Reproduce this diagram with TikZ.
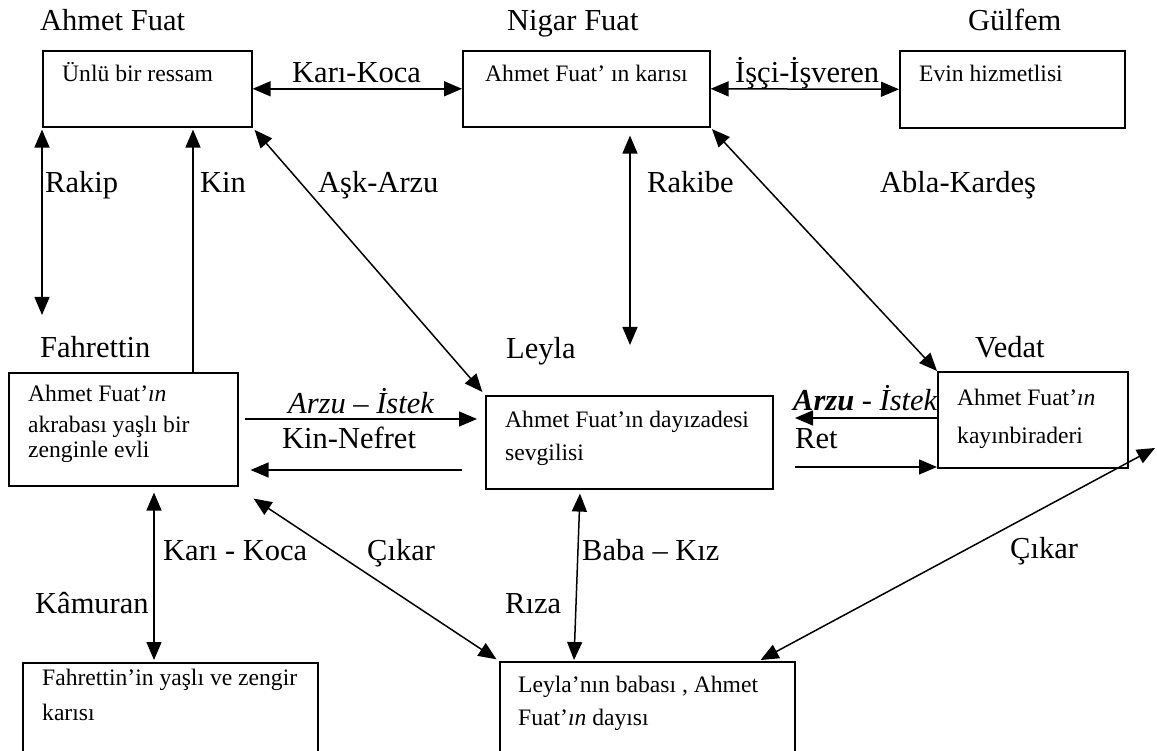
\documentclass[tikz,border=0pt]{standalone}
\usepackage{fontspec}
\setmainfont{Liberation Serif}
\usetikzlibrary{arrows.meta,calc}
\begin{document}
\begin{tikzpicture}[x=1pt,y=-1pt,
  >={Triangle[length=18pt,width=15pt]},
  box/.style={draw, line width=1.6pt, inner sep=0pt, anchor=north west},
  big/.style={font=\fontsize{30.5}{36}\selectfont, inner sep=0pt, anchor=base west},
  small/.style={font=\fontsize{23.6}{28}\selectfont, inner sep=0pt, anchor=base west},
  conn/.style={line width=1.5pt},
  both/.style={conn, <->},
  fwd/.style={conn, ->}]
\useasboundingbox (0,0) rectangle (1157,751);
\clip (0,0) rectangle (1157,751);
\fill[white] (0,0) rectangle (1157,751);

% boxes
\node[box, minimum width=209pt, minimum height=76pt] (A) at (42,50) {};
\node[box, minimum width=247pt, minimum height=76pt] (N) at (462,50) {};
\node[box, minimum width=225pt, minimum height=77pt] (G) at (899,50) {};
\node[box, minimum width=229pt, minimum height=113pt] (F) at (8,372) {};
\node[box, minimum width=287pt, minimum height=93pt] (L) at (485,395) {};
\node[box, minimum width=190pt, minimum height=96pt] (V) at (937,371) {};
\node[box, minimum width=295pt, minimum height=150pt] (K) at (22,662) {};
\node[box, minimum width=295pt, minimum height=150pt] (B) at (499,661) {};

% titles
\node[big] (tA) at (40,31) {Ahmet Fuat};
\node[big] (tN) at (507,31) {Nigar Fuat};
\node[big] (tG) at (968,31) {Gülfem};
\node[big] (tF) at (40,358) {Fahrettin};
\node[big] (tL) at (506,359) {Leyla};
\node[big] (tV) at (975,358) {Vedat};
\node[big] (tK) at (35,613) {Kâmuran};

% box texts
\node[small] (xA) at (62,82) {Ünlü bir ressam};
\node[small] (xN) at (485,82) {Ahmet Fuat’ ın karısı};
\node[small] (xG) at (919,82) {Evin hizmetlisi};
\node[small] (xF1) at (28,402) {Ahmet Fuat’\textit{ın}};
\node[small] (xF2) at (28,432) {akrabası yaşlı bir};
\node[small] (xF3) at (28,457) {zenginle evli};
\node[small] (xL1) at (505,427) {Ahmet Fuat’ın dayızadesi};
\node[small] (xL2) at (505,460) {sevgilisi};
\node[small] (xV1) at (957,405) {Ahmet Fuat’\textit{ın}};
\node[small] (xV2) at (957,443) {kayınbiraderi};
\node[small] (xK1) at (42,685) {Fahrettin’in yaşlı ve zengir};
\node[small] (xK2) at (42,720) {karısı};
\node[small] (xB1) at (518,692) {Leyla’nın babası , Ahmet};
\node[small] (xB2) at (518,725) {Fuat’\textit{ın} dayısı};

% connectors
\draw[both] (A.east) -- (N.west);
\draw[both] (N.east) -- (G.west);
\coordinate (rakipEnd) at (42,315);
\draw[both, shorten <=2pt] (A.south west) -- (rakipEnd);
\coordinate (kinX) at (193,0);
\draw[fwd, shorten >=2pt] (F.north -| kinX) -- (A.south -| kinX);
\draw[both, shorten <=3pt, shorten >=4pt] (A.south east) -- (L.north west);
\coordinate (rakibeEnd) at (630,345);
\draw[both, shorten <=8pt] (N.south -| rakibeEnd) -- (rakibeEnd);
\draw[both, shorten <=2pt] (N.south east) -- (V.north west);
\coordinate (flStart) at (245,419);
\draw[fwd, shorten >=8pt] (flStart) -- (flStart -| L.west);
\coordinate (lfStart) at (462,470);
\draw[fwd, shorten >=12pt] (lfStart) -- (lfStart -| F.east);
\coordinate (vlEnd) at (795,418);
\draw[fwd] (vlEnd -| V.west) -- (vlEnd);
\coordinate (lvStart) at (795,467);
\draw[fwd] (lvStart) -- (lvStart -| V.west);
\coordinate (kX) at (154,0);
\draw[both, shorten <=6pt, shorten >=2pt] (F.south -| kX) -- (K.north -| kX);
\draw[both, shorten >=3pt] ($(F.south east)+(15,12)$) -- (B.north west);
\draw[both] ($(L.south west)+(95,4)$) -- ($(B.north west)+(75,-1)$);
\coordinate (cikarEnd) at (1155,448);
\draw[both] ($(B.north east)+(-35,-1)$) -- (cikarEnd);

% labels
\node[big] (lKK) at (292,83) {Karı-Koca};
\node[big] (lII) at (735,83) {İşçi-İşveren};
\node[big] (lRakip) at (45,193) {Rakip};
\node[big] (lKin) at (200,193) {Kin};
\node[big] (lAsk) at (318,193) {Aşk-Arzu};
\node[big] (lRakibe) at (647,193) {Rakibe};
\node[big] (lAbla) at (880,193) {Abla-Kardeş};
\node[big] (lAI1) at (288,413) {\textit{Arzu – İstek}};
\node[big] (lKN) at (282,448) {Kin-Nefret};
\node[big] (lAI2) at (793,410) {\textit{\textbf{Arzu} - İstek}};
\node[big] (lRet) at (795,448) {Ret};
\node[big] (lKK2) at (163,560) {Karı - Koca};
\node[big] (lC1) at (367,560) {Çıkar};
\node[big] (lBK) at (582,560) {Baba – Kız};
\node[big] (lRiza) at (505,613) {Rıza};
\node[big] (lC2) at (1010,558) {Çıkar};
\end{tikzpicture}
\end{document}
